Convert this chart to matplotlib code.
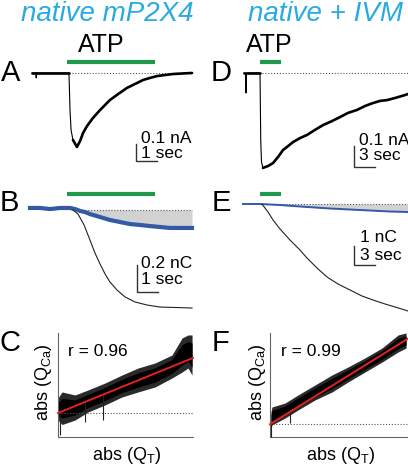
import matplotlib
matplotlib.use('Agg')
import matplotlib.pyplot as plt

W, H, DPI = 408, 466, 100
plt.rcParams['font.family'] = ['Liberation Sans', 'DejaVu Sans']
plt.rcParams['mathtext.fontset'] = 'custom'
plt.rcParams['mathtext.rm'] = 'Liberation Sans'
plt.rcParams['mathtext.it'] = 'Liberation Sans:italic'

# ---------------- data ----------------
titles = ['native mP2X4', 'native + IVM']

# Panel A: current (nA) vs time (s), native mP2X4
A_t = [0.00, 0.19, 0.20, 0.21, 1.76, 1.81, 1.86, 1.95, 2.14, 2.29, 2.43, 2.62, 2.90,
       3.24, 3.71, 4.10, 4.52, 4.90, 5.29, 5.62, 5.95, 6.33, 6.71, 7.14, 7.62]
A_I = [0, 0, -0.029, 0, 0, -0.218, -0.335, -0.394, -0.435, -0.400, -0.353, -0.312, -0.265,
       -0.218, -0.159, -0.124, -0.088, -0.065, -0.041, -0.029, -0.018, -0.012, -0.006, -0.003, 0]
ATP_A = [1.67, 5.86]

# Panel B: charge (nC) vs time (s)
B_t_ca = [-0.095, 0.381, 0.857, 1.333, 1.81, 2.05, 2.29, 2.52, 2.76, 3.24, 3.71, 4.19,
          4.67, 5.14, 5.62, 6.10, 6.57, 7.05, 7.62]
B_q_ca = [0.015, 0.015, 0.007, 0.015, 0.015, 0.007, -0.007, -0.015, -0.030, -0.052, -0.074,
          -0.089, -0.104, -0.111, -0.119, -0.126, -0.133, -0.133, -0.133]
B_t_tot = [1.95, 2.19, 2.48, 2.76, 3.00, 3.24, 3.48, 3.71, 4.05, 4.43, 4.90, 5.48, 6.10, 6.81, 7.62]
B_q_tot = [0, -0.030, -0.111, -0.222, -0.319, -0.400, -0.474, -0.533, -0.593, -0.644,
           -0.681, -0.704, -0.719, -0.722, -0.726]

# Panel D: current (nA) vs time (s), native + IVM
D_t = [0.00, 0.21, 0.29, 0.36, 2.29, 2.39, 2.50, 2.71, 3.43, 4.14, 4.86, 5.57, 6.29, 7.00,
       8.00, 9.00, 10.14, 11.29, 12.57, 13.71, 14.86, 16.14, 17.29, 18.43, 19.43, 20.43,
       21.57, 23.00, 23.43]
D_I = [0, 0, -0.095, 0, 0, -0.319, -0.424, -0.452, -0.443, -0.429, -0.400, -0.367, -0.348,
       -0.329, -0.310, -0.295, -0.271, -0.248, -0.229, -0.210, -0.190, -0.176, -0.157,
       -0.143, -0.133, -0.129, -0.119, -0.105, -0.100]
ATP_D = [2.29, 5.29]

# Panel E: charge (nC) vs time (s)
E_t_ca = [0.00, 2.43, 5.29, 8.14, 12.43, 16.71, 21.00, 23.57]
E_q_ca = [0, 0, -0.053, -0.132, -0.237, -0.316, -0.395, -0.421]
E_t_tot = [2.71, 3.57, 4.29, 5.29, 6.71, 8.14, 9.14, 10.57, 12.00, 13.57, 15.29, 17.00,
           18.57, 20.29, 21.71, 23.14, 23.57]
E_q_tot = [0, -0.421, -0.842, -1.316, -1.895, -2.421, -2.842, -3.368, -3.842, -4.211,
           -4.526, -4.842, -5.053, -5.263, -5.421, -5.579, -5.632]
ATP_E = [2.43, 5.43]

# Panel C: abs(Q_Ca) vs abs(Q_T), normalised units
C_u = [0.0, 0.030, 0.126, 0.222, 0.348, 0.474, 0.593, 0.719, 0.844, 0.919, 0.963, 0.993]
C_hi = [0.375, 0.433, 0.404, 0.452, 0.519, 0.596, 0.663, 0.712, 0.788, 0.952, 0.981, 0.981]
C_lo = [0.163, 0.120, 0.163, 0.240, 0.308, 0.385, 0.433, 0.481, 0.567, 0.625, 0.663, 0.596]
C_spike_u = [0.015, 0.200, 0.333]
C_spike_lo = [0.019, 0.144, 0.163]
C_fit = [0.231, 0.529]     # intercept, slope
C_r = 0.96

# Panel F
F_u = [0.007, 0.014, 0.109, 0.203, 0.326, 0.449, 0.565, 0.688, 0.812, 0.928, 0.986]
F_hi = [0.245, 0.294, 0.333, 0.412, 0.510, 0.608, 0.686, 0.775, 0.873, 1.000, 1.020]
F_lo = [0.088, 0.118, 0.186, 0.265, 0.363, 0.441, 0.539, 0.637, 0.735, 0.833, 0.873]
F_spike_u = [0.010, 0.145]
F_spike_lo = [0.0, 0.137]
F_fit = [0.125, 0.840]
F_r = 0.99

# scale bars: (amplitude, duration)
SB_A = (0.1, 1, '0.1 nA', '1 sec')
SB_B = (0.2, 1, '0.2 nC', '1 sec')
SB_D = (0.1, 3, '0.1 nA', '3 sec')
SB_E = (1.0, 3, '1 nC', '3 sec')

# ---------------- styles ----------------
C_TITLE = '#29abe2'
C_GREEN = '#1f9a4b'
C_BLUE = '#3459a5'
C_RED = '#e3221f'
C_GREY = '#d2d2d2'
C_DOT = '#555555'
C_BAR = '#333333'
DOT = (0, (1, 1.6))

fig = plt.figure(figsize=(W / DPI, H / DPI), dpi=DPI)


def panel(x0, y0, sx, sy):
    """Full-figure transparent axes; data origin at pixel (x0, y0), sx/sy px per unit."""
    ax = fig.add_axes([0, 0, 1, 1])
    ax.set_xlim(-x0 / sx, (W - x0) / sx)
    ax.set_ylim(-(H - y0) / sy, y0 / sy)
    ax.axis('off')
    ax.patch.set_alpha(0)
    ax._px = (x0, y0, sx, sy)
    return ax


def px2d(ax, x, y):
    x0, y0, sx, sy = ax._px
    return (x - x0) / sx, (y0 - y) / sy


def ptext(x, y, s, **kw):
    fig.text(x / W, 1 - y / H, s, **kw)


def scalebar(ax, x, ytop, sb, tx, ty1, ty2):
    amp, dur, lab1, lab2 = sb
    bx, btop = px2d(ax, x, ytop)
    ax.plot([bx, bx, bx + dur], [btop, btop - amp, btop - amp], color=C_BAR, lw=1.0,
            solid_joinstyle='miter', clip_on=False)
    ptext(tx, ty1, lab1, fontsize=12.5, ha='left', va='center')
    ptext(tx, ty2, lab2, fontsize=12.5, ha='left', va='center')


def atp_bar(ax, t, ypx):
    _, yb = px2d(ax, 0, ypx)
    ax.plot(t, [yb, yb], color=C_GREEN, lw=3.0, solid_capstyle='butt')


def trace(ax, t, y, thick_ranges):
    """Thin line through every point; noisy (slow) parts drawn thicker."""
    ax.plot(t, y, color='black', lw=0.8)
    for a, b in thick_ranges:
        ax.plot(t[a:b], y[a:b], color='black', lw=1.9, solid_joinstyle='round',
                solid_capstyle='round')


def band(ax, u, lo, hi):
    ax.fill_between(u, lo, hi, color='#2a2a2a', lw=0)
    lo_in = [l + 0.2 * (h - l) for l, h in zip(lo, hi)]
    hi_in = [h - 0.2 * (h - l) for l, h in zip(lo, hi)]
    ax.fill_between(u, lo_in, hi_in, color='#000000', lw=0)


# titles
ptext(107, 21, titles[0], fontsize=20, style='italic', color=C_TITLE, ha='center', va='baseline')
ptext(326, 21, titles[1], fontsize=20, style='italic', color=C_TITLE, ha='center', va='baseline')
ptext(101, 45, 'ATP', fontsize=18, ha='center', va='center')
ptext(269, 45, 'ATP', fontsize=18, ha='center', va='center')

# panel letters
for lab, x, y in [('A', 11, 73), ('B', 9, 203), ('C', 10, 343),
                  ('D', 221, 73), ('E', 221, 203), ('F', 221, 343)]:
    ptext(x, y, lab, fontsize=21, ha='center', va='center')

# ---- A ----
axA = panel(32, 73, 21, 170)
atp_bar(axA, ATP_A, 62)
axA.plot([1.76, A_t[-1]], [0, 0], ls=DOT, color=C_DOT, lw=0.8)
trace(axA, A_t, A_I, [(0, 2), (3, 5), (7, len(A_t))])
scalebar(axA, 136, 144, SB_A, 141, 139, 154)

# ---- D ----
axD = panel(244, 73, 7, 210)
atp_bar(axD, ATP_D, 62)
axD.plot([2.57, 24], [0, 0], ls=DOT, color=C_DOT, lw=0.8)
trace(axD, D_t, D_I, [(0, 2), (3, 5), (7, len(D_t))])
scalebar(axD, 354, 146, SB_D, 359, 140, 155)

# ---- B ----
axB = panel(32, 210, 21, 135)
atp_bar(axB, ATP_A, 194)
mask = [t >= 2.29 for t in B_t_ca]
axB.fill_between(B_t_ca, 0, B_q_ca, where=mask, color=C_GREY, lw=0)
axB.plot([2.38, B_t_ca[-1]], [0, 0], ls=DOT, color=C_DOT, lw=0.8)
axB.plot(B_t_ca, B_q_ca, color=C_BLUE, lw=3.0, solid_joinstyle='round')
axB.plot(B_t_tot, B_q_tot, color='#222222', lw=0.8)
scalebar(axB, 137, 265, SB_B, 141, 263, 279)

# ---- E ----
axE = panel(243, 204, 7, 19)
atp_bar(axE, ATP_E, 194)
maskE = [t >= 2.43 for t in E_t_ca]
axE.fill_between(E_t_ca, 0, E_q_ca, where=maskE, color=C_GREY, lw=0)
axE.plot([2.43, 24], [0, 0], ls=DOT, color=C_DOT, lw=0.8)
axE.plot(E_t_ca, E_q_ca, color=C_BLUE, lw=1.4)
axE.plot(E_t_tot, E_q_tot, color='#222222', lw=0.8)
scalebar(axE, 354, 246, SB_E, 360, 238, 256)

# ---- C ----
axC = panel(58, 437, 135, 104)
axC.plot([0, 0, 1.0], [1.0, 0, 0], color='#666666', lw=0.8, clip_on=False)
axC.plot([0.02, 1.0], [C_fit[0], C_fit[0]], ls=DOT, color=C_DOT, lw=0.8)
band(axC, C_u, C_lo, C_hi)
axC.vlines(C_spike_u, C_spike_lo, [C_fit[0] + C_fit[1] * u for u in C_spike_u],
           color='#222222', lw=0.8)
axC.plot([0, 1], [C_fit[0], C_fit[0] + C_fit[1]], color=C_RED, lw=1.4)
ptext(98, 352, 'r = %.2f' % C_r, fontsize=12.5, ha='center', va='center')
ptext(44, 382, r'abs (Q$_{\mathrm{Ca}}$)', fontsize=13, rotation=90, ha='center', va='center')
ptext(127, 455, r'abs (Q$_{\mathrm{T}}$)', fontsize=13, ha='center', va='center')

# ---- F ----
axF = panel(270, 437, 138, 102)
axF.plot([0, 0, 1.0], [1.02, 0, 0], color='#666666', lw=0.8, clip_on=False)
axF.plot([0.0, 1.0], [F_fit[0], F_fit[0]], ls=DOT, color=C_DOT, lw=0.8)
band(axF, F_u, F_lo, F_hi)
axF.vlines(F_spike_u, F_spike_lo, [F_fit[0] + F_fit[1] * u for u in F_spike_u],
           color='#222222', lw=0.8)
axF.plot([0, 1], [F_fit[0], F_fit[0] + F_fit[1]], color=C_RED, lw=1.4)
ptext(311, 352, 'r = %.2f' % F_r, fontsize=12.5, ha='center', va='center')
ptext(257, 382, r'abs (Q$_{\mathrm{Ca}}$)', fontsize=13, rotation=90, ha='center', va='center')
ptext(341, 455, r'abs (Q$_{\mathrm{T}}$)', fontsize=13, ha='center', va='center')

fig.savefig('out.png', dpi=DPI)
